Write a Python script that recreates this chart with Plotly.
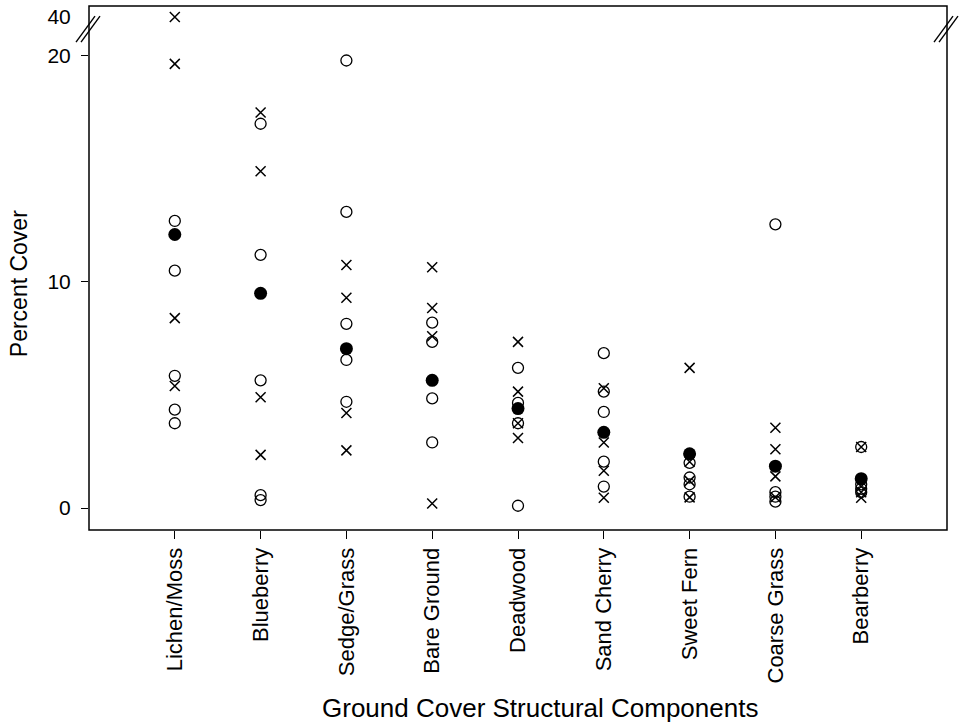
import plotly.graph_objects as go

categories = ["Lichen/Moss", "Blueberry", "Sedge/Grass", "Bare Ground", "Deadwood",
              "Sand Cherry", "Sweet Fern", "Coarse Grass", "Bearberry"]

open_circle = [
    [12.7, 10.5, 5.85, 4.35, 3.75],
    [17.0, 11.2, 5.65, 0.57, 0.35],
    [19.8, 13.1, 8.15, 6.55, 4.7],
    [8.2, 7.35, 4.85, 2.9],
    [6.2, 4.65, 3.75, 0.1],
    [6.85, 5.15, 4.25, 2.05, 0.95],
    [2.0, 1.35, 1.05, 0.5],
    [12.55, 0.7, 0.5, 0.28],
    [2.7, 1.05, 0.85, 0.7],
]
cross = [
    [40, 19.65, 8.4, 5.4],
    [17.5, 14.9, 4.9, 2.35],
    [10.75, 9.3, 4.2, 2.55],
    [10.65, 8.85, 7.6, 0.2],
    [7.35, 5.15, 3.75, 3.1],
    [5.3, 2.9, 1.65, 0.45],
    [6.2, 2.05, 1.2, 0.47],
    [3.55, 2.6, 1.4, 0.48],
    [2.7, 0.95, 0.7, 0.45],
]
mean = [12.1, 9.5, 7.05, 5.65, 4.4, 3.35, 2.4, 1.85, 1.3]

BREAK = 20.5
y_ticks_low = [0, 10, 20]
y_ticks_high = [40]


def split(groups):
    lo_x, lo_y, hi_x, hi_y = [], [], [], []
    for cat, vals in zip(categories, groups):
        for v in vals:
            if v > BREAK:
                hi_x.append(cat); hi_y.append(v)
            else:
                lo_x.append(cat); lo_y.append(v)
    return lo_x, lo_y, hi_x, hi_y


fig = go.Figure()

styles = [
    (open_circle, dict(symbol="circle-open", size=11, color="black", line=dict(width=1.3, color="black"))),
    (cross, dict(symbol="x-thin-open", size=10, color="black", line=dict(width=1.5, color="black"))),
    ([[m] for m in mean], dict(symbol="circle", size=13, color="black", line=dict(width=0))),
]
for groups, marker in styles:
    lx, ly, hx, hy = split(groups)
    fig.add_trace(go.Scatter(x=lx, y=ly, mode="markers", marker=marker,
                             xaxis="x", yaxis="y", showlegend=False))
    if hx:
        fig.add_trace(go.Scatter(x=hx, y=hy, mode="markers", marker=marker,
                                 xaxis="x", yaxis="y2", showlegend=False))

font = "Liberation Sans, Arial, sans-serif"
brk = 0.956

fig.update_layout(
    width=964, height=727,
    margin=dict(l=89, r=17, t=6, b=197),
    paper_bgcolor="white", plot_bgcolor="white",
    font=dict(family=font, color="black"),
    xaxis=dict(type="category", categoryorder="array", categoryarray=categories,
               range=[-1, 9], tickangle=-90, ticks="outside", ticklen=8,
               tickwidth=1.2, tickcolor="black", showgrid=False, zeroline=False,
               showline=False, tickfont=dict(size=22, family=font), anchor="y"),
    yaxis=dict(domain=[0, brk], range=[-0.973, 21.19], tickvals=y_ticks_low,
               ticks="outside", ticklen=7, tickwidth=1.2, tickcolor="black",
               ticklabelstandoff=6,
               showgrid=False, zeroline=False, showline=False,
               tickfont=dict(size=21, family=font)),
    yaxis2=dict(domain=[0.958, 1], range=[38, 42], tickvals=y_ticks_high,
                ticks="outside", ticklen=7, tickcolor="rgba(0,0,0,0)",
                ticklabelstandoff=6,
                showgrid=False, zeroline=False, showline=False, anchor="x",
                tickfont=dict(size=21, family=font)),
)

shapes = [dict(type="rect", xref="paper", yref="paper", x0=0, x1=1, y0=0, y1=1,
               line=dict(color="black", width=1.5))]
for xa in (0, 1):
    for off in (-3, 2):
        shapes.append(dict(type="line", xref="paper", yref="paper",
                           xsizemode="pixel", ysizemode="pixel",
                           xanchor=xa, yanchor=brk,
                           x0=-10 + off, x1=9 + off, y0=-13, y1=13,
                           line=dict(color="black", width=1.4)))
fig.update_layout(shapes=shapes)

fig.add_annotation(text="Percent Cover", xref="paper", yref="paper",
                   x=-0.0816, y=0.471, textangle=-90, showarrow=False,
                   xanchor="center", yanchor="middle", font=dict(size=23, family=font))
fig.add_annotation(text="Ground Cover Structural Components", xref="paper", yref="paper",
                   x=0.5256, y=-0.34, showarrow=False,
                   xanchor="center", yanchor="middle", font=dict(size=26, family=font))

fig.write_html("out.html", config={"displayModeBar": False},
               post_script="document.body.style.margin='0';document.body.style.overflow='hidden';")
